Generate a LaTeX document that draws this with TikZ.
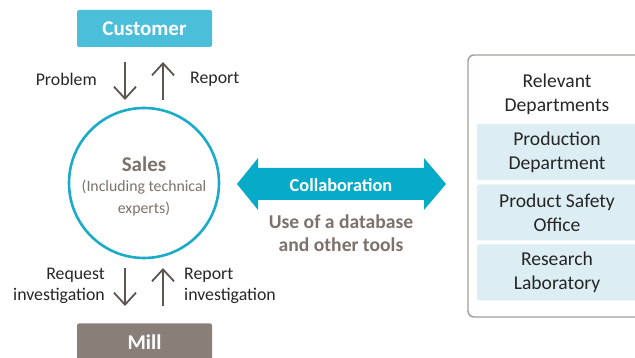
\documentclass[tikz,border=0pt]{standalone}
\usepackage{fontspec}
\setmainfont{Carlito}
\usetikzlibrary{arrows.meta}
\definecolor{cust}{HTML}{4BBFD9}
\definecolor{ring}{HTML}{1AABC8}
\definecolor{mill}{HTML}{8A7E78}
\definecolor{txtg}{HTML}{7C716B}
\definecolor{arr}{HTML}{5E5550}
\definecolor{collab}{HTML}{07AAC7}
\definecolor{dept}{HTML}{DCEEF3}
\definecolor{frame}{HTML}{A39D99}
\tikzset{
  topbox/.style={rounded corners=2pt, minimum width=135pt, minimum height=37pt, text=white, font=\fontsize{21}{24}\selectfont\bfseries, inner sep=0pt},
  flow/.style={draw=arr, line width=1.8pt, -{Straight Barb[length=12pt,width=22pt,line width=1.8pt]}},
  lbl/.style={font=\fontsize{17.8}{21}\selectfont, text=black!85, inner sep=0pt, align=center},
  deptbox/.style={fill=dept, rounded corners=2pt, minimum width=170pt, minimum height=56pt, inner sep=0pt},
  depttext/.style={font=\fontsize{19.6}{24}\selectfont, text=black!85, align=center, inner sep=0pt},
}
\begin{document}
\begin{tikzpicture}[x=1pt,y=-1pt]
\useasboundingbox (0,0) rectangle (635,358);
\clip (0,0) rectangle (635,358);
% top and bottom boxes
\node[topbox, fill=cust] (cust) at (144.5,28.5) {Customer};
\node[topbox, fill=mill] (mill) at (144.5,342) {Mill};
% circle
\node[circle, draw=ring, line width=2.6pt, minimum size=150pt, inner sep=0pt] (sales) at (144,183) {};
\node[font=\fontsize{21}{24}\selectfont\bfseries, text=txtg, inner sep=0pt] (salest) at (144,164) {Sales};
\node[font=\fontsize{15.8}{22}\selectfont, text=txtg, align=center, inner sep=0pt] (salesub) at (144,198) {(Including technical\\experts)};
% top arrows
\coordinate (a1s) at (125,62); \coordinate (a1e) at (125,100);
\coordinate (a2s) at (163,100); \coordinate (a2e) at (163,62);
\draw[flow] (a1s) -- (a1e);
\draw[flow] (a2s) -- (a2e);
\node[lbl, anchor=east] (prob) at (97,79) {Problem};
\node[lbl, anchor=west] (rep) at (190,79) {Report};
% bottom arrows
\coordinate (b1s) at (125,268); \coordinate (b1e) at (125,306);
\coordinate (b2s) at (163,306); \coordinate (b2e) at (163,268);
\draw[flow] (b1s) -- (b1e);
\draw[flow] (b2s) -- (b2e);
\node[lbl, anchor=east, align=right] (req) at (105,286) {Request\\investigation};
\node[lbl, anchor=west, align=left] (repi) at (184,286) {Report\\investigation};
% double arrow
\coordinate (lt) at (237,184);
\coordinate (rt) at (446,184);
\fill[collab] (lt) -- (258,158) -- (258,168) -- (424,168) -- (424,158) -- (rt) -- (424,210) -- (424,200) -- (258,200) -- (258,210) -- cycle;
\node[font=\fontsize{18.3}{22}\selectfont\bfseries, text=white, inner sep=0pt] (collabt) at (341,185) {Collaboration};
\node[font=\fontsize{19.6}{23}\selectfont\bfseries, text=txtg, align=center, inner sep=0pt] (db) at (341,233) {Use of a database\\and other tools};
% right frame
\node[draw=frame, line width=1.4pt, rounded corners=6pt, minimum width=200pt, minimum height=262pt, inner sep=0pt] (frame) at (568,186) {};
\node[depttext] (relt) at (557,94.5) {Relevant\\Departments};
\node[deptbox] (d1) at (562,152) {};
\node[depttext] at (d1.center) [xshift=-5pt] {Production\\Department};
\node[deptbox] (d2) at (562,212.5) {};
\node[depttext] at (d2.center) [xshift=-5pt] {Product Safety\\Office};
\node[deptbox] (d3) at (562,272.5) {};
\node[depttext] at (d3.center) [xshift=-5pt] {Research\\Laboratory};
\end{tikzpicture}
\end{document}
